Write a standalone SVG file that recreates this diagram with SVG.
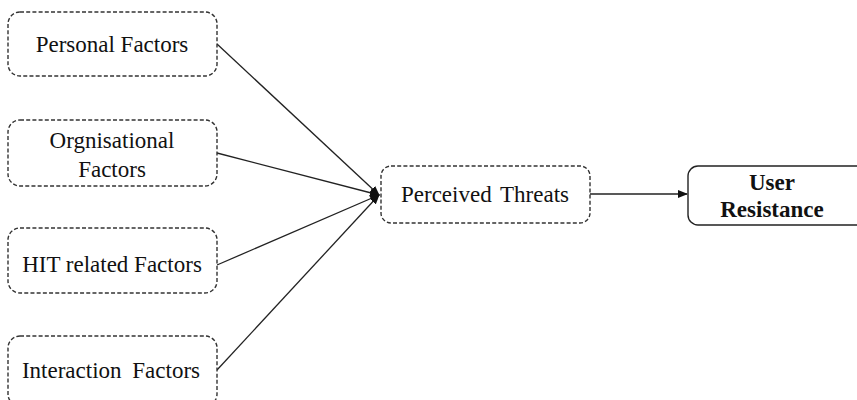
<svg xmlns="http://www.w3.org/2000/svg" width="857" height="400" viewBox="0 0 857 400">
<style>
.n{fill:#fff;stroke:#333;stroke-width:1.4;stroke-dasharray:4 2.2}
.s{fill:#fff;stroke:#222;stroke-width:1.4}
.t{font-family:"Liberation Serif","Times New Roman",serif;font-size:23px;fill:#111;text-anchor:middle}
.b{font-weight:bold}
.c{stroke:#222;stroke-width:1.3;fill:none}
</style>
<defs>
<marker id="ah" markerWidth="10" markerHeight="8" refX="9" refY="4" orient="auto" markerUnits="userSpaceOnUse">
<path d="M0,0 L10,4 L0,8 Z" fill="#111"/>
</marker>
</defs>
<rect width="857" height="400" fill="#fff"/>
<g id="connectors">
<line class="c" x1="217" y1="44" x2="379" y2="195" marker-end="url(#ah)"/>
<line class="c" x1="217" y1="153" x2="379" y2="195" marker-end="url(#ah)"/>
<line class="c" x1="217" y1="265" x2="379" y2="195" marker-end="url(#ah)"/>
<line class="c" x1="217" y1="370" x2="379" y2="195" marker-end="url(#ah)"/>
<line class="c" x1="590" y1="194" x2="687" y2="194" marker-end="url(#ah)"/>
</g>
<g id="personal">
<rect class="n" x="8" y="12" width="209" height="64" rx="12"/>
<text class="t" x="112" y="52">Personal Factors</text>
</g>
<g id="organisational">
<rect class="n" x="8" y="120" width="209" height="66" rx="12"/>
<text class="t" x="112" y="148">Orgnisational</text>
<text class="t" x="112" y="177">Factors</text>
</g>
<g id="hit">
<rect class="n" x="8" y="228" width="209" height="65" rx="12"/>
<text class="t" x="112" y="272">HIT related Factors</text>
</g>
<g id="interaction">
<rect class="n" x="8" y="336" width="209" height="70" rx="12"/>
<text class="t" x="111" y="378" word-spacing="5">Interaction Factors</text>
</g>
<g id="threats">
<rect class="n" x="381" y="166" width="209" height="57" rx="10"/>
<text class="t" x="485" y="202" word-spacing="3">Perceived Threats</text>
</g>
<g id="resistance">
<rect class="s" x="688" y="166" width="180" height="59" rx="10"/>
<text class="t b" x="772" y="190">User</text>
<text class="t b" x="772" y="217">Resistance</text>
</g>
</svg>
